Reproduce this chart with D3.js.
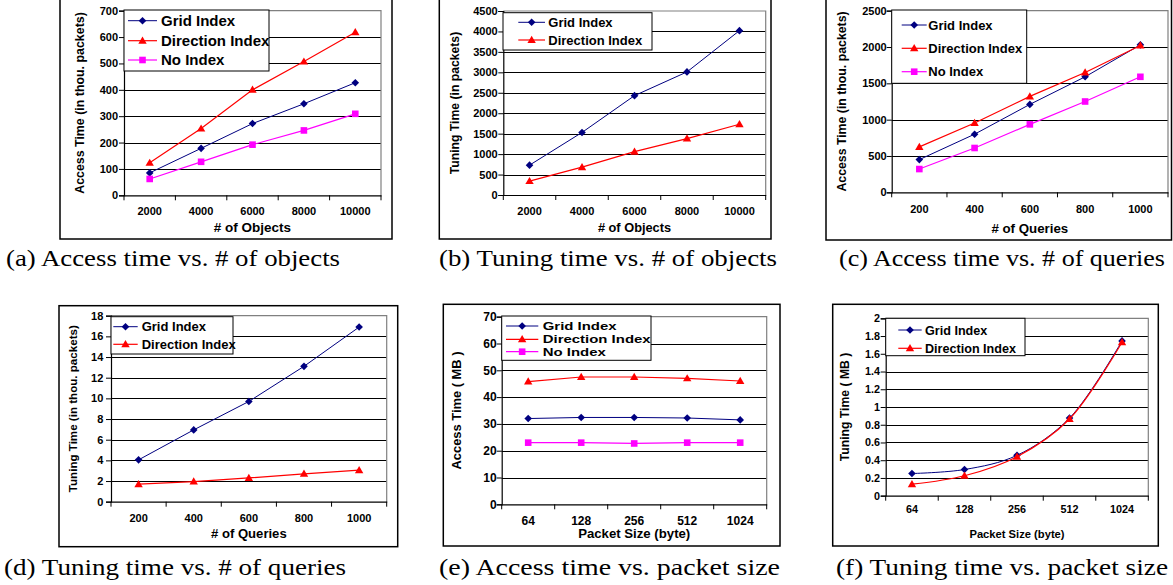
<!DOCTYPE html>
<html>
<head>
    <title>Index comparison charts</title>
    <script src="https://unpkg.com/d3@7/dist/d3.min.js"></script>
    <style>
        body { margin: 0; background: white; }
        text { font-family: "Liberation Sans", Arial, sans-serif; font-weight: bold; fill: black; }
        text.caption { font-family: "Liberation Serif", "Times New Roman", serif; font-weight: normal; }
    </style>
</head>
<body>
    <svg width="1173" height="585"></svg>
    <script>
        // categories
        const objects = ["2000", "4000", "6000", "8000", "10000"];
        const queries = ["200", "400", "600", "800", "1000"];
        const packetSizes = ["64", "128", "256", "512", "1024"];

        // (a) access time vs # of objects (thou. packets)
        const accObjGrid = [85, 178, 272, 347, 427];
        const accObjDir = [123, 253, 400, 507, 618];
        const accObjNo = [62, 127, 192, 246, 309];
        // (b) tuning time vs # of objects (packets)
        const tunObjGrid = [730, 1530, 2430, 3010, 4020];
        const tunObjDir = [340, 680, 1060, 1380, 1730];
        // (c) access time vs # of queries
        const accQryGrid = [450, 800, 1210, 1590, 2030];
        const accQryDir = [625, 955, 1320, 1650, 2020];
        const accQryNo = [320, 610, 935, 1250, 1590];
        // (d) tuning time vs # of queries
        const tunQryGrid = [4.05, 6.95, 9.7, 13.1, 16.9];
        const tunQryDir = [1.7, 1.95, 2.3, 2.7, 3.05];
        // (e) access time vs packet size (MB)
        const accPktGrid = [32, 32.4, 32.4, 32.2, 31.5];
        const accPktDir = [45.8, 47.5, 47.5, 47, 46];
        const accPktNo = [23, 23, 22.7, 23, 23];
        // (f) tuning time vs packet size (MB)
        const tunPktGrid = [0.25, 0.295, 0.455, 0.875, 1.745];
        const tunPktDir = [0.13, 0.225, 0.44, 0.865, 1.73];

        const styles = {
            grid: { color: '#000080', shape: 'diamond', width: 1 },
            dir: { color: '#ff0000', shape: 'triangle', width: 1.2 },
            no: { color: '#ff00ff', shape: 'square', width: 1.2 }
        };

        const panels = [
            { cats: objects, yMax: 700, yStep: 100,
              series: [['Grid Index', accObjGrid, 'grid'], ['Direction Index', accObjDir, 'dir'], ['No Index', accObjNo, 'no']],
              yTitle: 'Access Time (in thou. packets)', xTitle: '# of Objects', caption: '(a) Access time vs. # of objects',
              frame: [60, -1, 392, 239], plot: [124, 10.7, 381, 195.3],
              legend: [124, 10, 269, 71], rows: [20.7, 40.7, 60], sample: [128, 157], textX: 161, lf: 15, lsx: 1,
              tickRight: 118, tf: 11, xTickY: 215, xTitleY: 231.7, xtf: 13.5, yTitleX: 80, ytf: 12.4,
              cap: [6, 265.7, 334] },
            { cats: objects, yMax: 4500, yStep: 500,
              series: [['Grid Index', tunObjGrid, 'grid'], ['Direction Index', tunObjDir, 'dir']],
              yTitle: 'Tuning Time (in packets)', xTitle: '# of Objects', caption: '(b) Tuning time vs. # of objects',
              frame: [439.3, -1, 771, 239], plot: [503.3, 11, 765.7, 195],
              legend: [503, 12.7, 652, 50], rows: [22.3, 40], sample: [518.3, 545], textX: 548.3, lf: 13, lsx: 1,
              tickRight: 497.7, tf: 11, xTickY: 215, xTitleY: 232, xtf: 12.8, yTitleX: 455, ytf: 12.2,
              cap: [439, 265.7, 338] },
            { cats: queries, yMax: 2500, yStep: 500,
              series: [['Grid Index', accQryGrid, 'grid'], ['Direction Index', accQryDir, 'dir'], ['No Index', accQryNo, 'no']],
              yTitle: 'Access Time (in thou. packets)', xTitle: '# of Queries', caption: '(c) Access time vs. # of queries',
              frame: [826, -1, 1171.5, 240], plot: [891.7, 10.7, 1168, 192.3],
              legend: [891.7, 10, 1026.7, 83.3], rows: [25, 48.3, 71.7], sample: [901.7, 926.7], textX: 928.3, lf: 13, lsx: 1,
              tickRight: 886.7, tf: 11, xTickY: 213.3, xTitleY: 232.7, xtf: 13.3, yTitleX: 841.7, ytf: 12.3,
              cap: [839, 265.7, 326] },
            { cats: queries, yMax: 18, yStep: 2,
              series: [['Grid Index', tunQryGrid, 'grid'], ['Direction Index', tunQryDir, 'dir']],
              yTitle: 'Tuning Time (in thou. packets)', xTitle: '# of Queries', caption: '(d) Tuning time vs. # of queries',
              frame: [59, 305.7, 397.7, 546.7], plot: [111, 315.7, 386.7, 501.7],
              legend: [111, 316.7, 233, 354], rows: [326.7, 344.3], sample: [113.3, 137.7], textX: 141.7, lf: 13, lsx: 1,
              tickRight: 103.3, tf: 11, xTickY: 521.7, xTitleY: 538.3, xtf: 13.1, yTitleX: 73.3, ytf: 11.6,
              cap: [4, 575, 342] },
            { cats: packetSizes, yMax: 70, yStep: 10,
              series: [['Grid Index', accPktGrid, 'grid'], ['Direction Index', accPktDir, 'dir'], ['No Index', accPktNo, 'no']],
              yTitle: 'Access Time ( MB )', xTitle: 'Packet Size (byte)', caption: '(e) Access time vs. packet size',
              frame: [443.3, 304.3, 780, 546], plot: [501.7, 316.7, 766.7, 504.3],
              legend: [501.7, 316, 651, 360.3], rows: [326, 339.3, 351.7], sample: [506, 538.3], textX: 542.7, lf: 11.5, lsx: 1.3,
              tickRight: 496.7, tf: 12, xTickY: 525, xTitleY: 538.3, xtf: 13.2, yTitleX: 456.7, ytf: 12.9,
              cap: [439, 575, 341] },
            { cats: packetSizes, yMax: 2, yStep: 0.2, smooth: true,
              series: [['Grid Index', tunPktGrid, 'grid'], ['Direction Index', tunPktDir, 'dir']],
              yTitle: 'Tuning Time ( MB )', xTitle: 'Packet Size (byte)', caption: '(f) Tuning time vs. packet size',
              frame: [832.7, 304.3, 1158.3, 546], plot: [885.7, 318.3, 1148.3, 495.7],
              legend: [885.7, 318.3, 1025, 355.7], rows: [330, 348.3], sample: [898.3, 921.7], textX: 925, lf: 12.6, lsx: 1,
              tickRight: 880, tf: 10.8, xTickY: 513.3, xTitleY: 538.3, xtf: 11.2, yTitleX: 845, ytf: 12.2,
              cap: [836, 575, 332] }
        ];

        const svg = d3.select('svg');

        function marker(shape, cx, cy) {
            if (shape === 'diamond') {
                const r = 3.8;
                return `M${cx},${cy - r}L${cx + r},${cy}L${cx},${cy + r}L${cx - r},${cy}Z`;
            }
            if (shape === 'triangle') {
                return `M${cx},${cy - 4.2}L${cx + 4.2},${cy + 3}L${cx - 4.2},${cy + 3}Z`;
            }
            const s = 3.3;
            return `M${cx - s},${cy - s}H${cx + s}V${cy + s}H${cx - s}Z`;
        }

        function drawPanel(p) {
            const g = svg.append('g');
            const [px0, py0, px1, py1] = p.plot;

            const x = d3.scaleBand().domain(p.cats).range([px0, px1]);
            const y = d3.scaleLinear().domain([0, p.yMax]).range([py1, py0]);
            const ticks = d3.range(0, p.yMax + p.yStep / 2, p.yStep).map(v => +v.toFixed(4));

            // outer frame
            g.append('rect')
                .attr('x', p.frame[0]).attr('y', p.frame[1])
                .attr('width', p.frame[2] - p.frame[0]).attr('height', p.frame[3] - p.frame[1])
                .attr('fill', 'none').attr('stroke', 'black').attr('stroke-width', 1.5);

            // gridlines
            g.selectAll('line.grid')
                .data(ticks.filter(t => t > 0 && t < p.yMax))
                .join('line')
                .attr('x1', px0).attr('x2', px1)
                .attr('y1', d => Math.round(y(d)) + 0.5).attr('y2', d => Math.round(y(d)) + 0.5)
                .attr('stroke', 'black').attr('stroke-width', 1);

            // plot area border (top, right)
            g.append('path')
                .attr('d', `M${px0},${y(p.yMax)}H${px1}V${py1}`)
                .attr('fill', 'none').attr('stroke', '#808080').attr('stroke-width', 1.2);

            // y axis
            const yAxis = d3.axisLeft(y)
                .tickValues(ticks)
                .tickSize(5)
                .tickPadding(px0 - p.tickRight - 5)
                .tickFormat(d => String(d));
            const ya = g.append('g').attr('transform', `translate(${px0},0)`).call(yAxis);
            ya.attr('font-family', null);
            ya.select('.domain').attr('stroke', 'black').attr('stroke-width', 1.2);
            ya.selectAll('.tick line').attr('stroke', 'black');
            ya.selectAll('text').attr('font-size', p.tf).attr('fill', 'black');

            // x axis: labels in band centres, ticks on band boundaries
            const xAxis = d3.axisBottom(x).tickSize(0).tickPadding(0);
            const xa = g.append('g').attr('transform', `translate(0,${py1})`).call(xAxis);
            xa.attr('font-family', null);
            xa.select('.domain').attr('stroke', 'black').attr('stroke-width', 1.2);
            xa.selectAll('text')
                .attr('font-size', p.tf).attr('fill', 'black')
                .attr('y', p.xTickY - py1).attr('dy', null);
            const bounds = p.cats.map(c => x(c)).concat([px1]);
            g.selectAll('line.xt')
                .data(bounds)
                .join('line')
                .attr('x1', d => d).attr('x2', d => d)
                .attr('y1', py1).attr('y2', py1 + 5)
                .attr('stroke', 'black');

            // series
            const cx = i => x(p.cats[i]) + x.bandwidth() / 2;
            const line = d3.line()
                .x((d, i) => cx(i))
                .y(d => y(d))
                .curve(p.smooth ? d3.curveCatmullRom.alpha(0.5) : d3.curveLinear);

            p.series.forEach(([name, values, key]) => {
                const st = styles[key];
                g.append('path')
                    .attr('d', line(values))
                    .attr('fill', 'none').attr('stroke', st.color).attr('stroke-width', st.width);
                g.selectAll(null)
                    .data(values)
                    .join('path')
                    .attr('d', (d, i) => marker(st.shape, cx(i), y(d)))
                    .attr('fill', st.color);
            });

            // legend
            const [lx0, ly0, lx1, ly1] = p.legend;
            g.append('rect')
                .attr('x', lx0).attr('y', ly0).attr('width', lx1 - lx0).attr('height', ly1 - ly0)
                .attr('fill', 'white').attr('stroke', 'black').attr('stroke-width', 1);
            p.series.forEach(([name, values, key], i) => {
                const st = styles[key];
                const ry = p.rows[i];
                g.append('line')
                    .attr('x1', p.sample[0]).attr('x2', p.sample[1])
                    .attr('y1', ry).attr('y2', ry)
                    .attr('stroke', st.color).attr('stroke-width', st.width);
                g.append('path')
                    .attr('d', marker(st.shape, (p.sample[0] + p.sample[1]) / 2, ry))
                    .attr('fill', st.color);
                g.append('text')
                    .attr('transform', `translate(${p.textX},${ry}) scale(${p.lsx},1)`)
                    .attr('dy', '0.36em')
                    .attr('font-size', p.lf)
                    .text(name);
            });

            // axis titles
            g.append('text')
                .attr('x', (px0 + px1) / 2).attr('y', p.xTitleY)
                .attr('text-anchor', 'middle').attr('font-size', p.xtf)
                .text(p.xTitle);
            g.append('text')
                .attr('transform', `translate(${p.yTitleX},${(py0 + py1) / 2}) rotate(-90)`)
                .attr('text-anchor', 'middle').attr('dy', '0.36em').attr('font-size', p.ytf)
                .text(p.yTitle);

            // caption
            g.append('text')
                .attr('class', 'caption')
                .attr('x', p.cap[0]).attr('y', p.cap[1])
                .attr('font-size', 24)
                .attr('textLength', p.cap[2]).attr('lengthAdjust', 'spacingAndGlyphs')
                .text(p.caption);
        }

        panels.forEach(drawPanel);
    </script>
</body>
</html>
